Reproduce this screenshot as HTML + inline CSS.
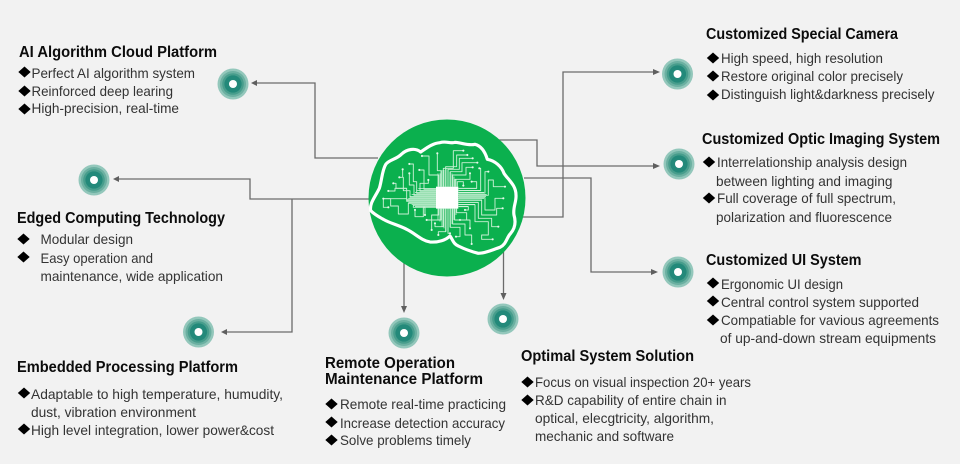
<!DOCTYPE html>
<html lang="en"><head><meta charset="utf-8"><title>AI platform diagram</title>
<style>
html,body{margin:0;padding:0;background:#f2f2f2}
svg{display:block}
text{font-family:"Liberation Sans",sans-serif}
.t{font-size:16px;font-weight:bold;fill:#0c0c0c}
.b{font-size:14px;fill:#333}
.l{fill:none;stroke:#6b6b6b;stroke-width:1.3}
.a{fill:#5f5f5f}
.d{fill:#000}
</style></head><body>
<svg width="960" height="464" viewBox="0 0 960 464" xmlns="http://www.w3.org/2000/svg">
<defs>
<g id="n"><circle r="15.5" fill="#93c7bb"/><circle r="13" fill="#6bb0a1"/><circle r="10.8" fill="#479d8c"/><circle r="8.6" fill="#23897a"/><circle r="4" fill="#fff"/></g>
<polygon id="m" points="-6.2,0 0,-5.5 6.2,0 0,5.5"/>
<marker id="dot" markerUnits="userSpaceOnUse" markerWidth="8" markerHeight="8" refX="4" refY="4"><circle cx="4" cy="4" r="3.2" fill="#e6f8eb"/></marker>
</defs>
<rect width="960" height="464" fill="#f2f2f2"/>
<!-- connectors -->
<path class="l" d="M378 158H315V83H256"/>
<path class="l" d="M372 199H250V179H117"/>
<path class="l" d="M292 199V332H226"/>
<path class="l" d="M497 140H537V166H655"/>
<path class="l" d="M523 217H563V72H655"/>
<path class="l" d="M524 178H591V272H654"/>
<path class="l" d="M404 260V308" stroke-width="1.5"/>
<path class="l" d="M503.5 250V295" stroke-width="1.5"/>
<polygon class="a" points="251,83 257,80 257,86"/>
<polygon class="a" points="113,179 119,176 119,182"/>
<polygon class="a" points="221,332 227,329 227,335"/>
<polygon class="a" points="660,72 653,69 653,75"/>
<polygon class="a" points="660,166 653,163 653,169"/>
<polygon class="a" points="658,272 651,269 651,275"/>
<polygon class="a" points="404,313 401,306 407,306"/>
<polygon class="a" points="503.5,300 500.5,293 506.5,293"/>
<!-- hub -->
<circle cx="447" cy="198" r="78.5" fill="#0bb04e"/>
<g transform="translate(360 120) scale(.3333)">
<path fill="none" stroke="#fff" stroke-width="9.500" stroke-linejoin="round" d="M32 272C28 250 45 232 58 205C66 180 66 150 78 132C90 118 110 118 125 102C140 88 165 82 182 96C195 88 215 70 240 68C258 62 272 72 285 67C305 68 325 78 345 73C365 78 375 95 382 118C405 122 425 140 432 160C445 180 468 195 468 225C470 245 458 262 462 285C468 305 465 325 452 340C440 352 440 372 420 382C400 388 378 400 355 400C335 395 315 388 295 378C280 372 278 358 270 348C258 360 235 368 210 366C185 362 165 340 140 328C115 315 90 310 70 298C55 290 42 282 32 272Z"/>
<g fill="none" stroke="#c9f0d4" stroke-width="2.800" stroke-linejoin="round" marker-end="url(#dot)">
<path d="M236 200V165H207V108H186"/>
<path d="M243 200V152H232V100"/>
<path d="M250 200V145H280V92H310"/>
<path d="M257 200V140H290V105H322"/>
<path d="M264 200V148H298V115H338"/>
<path d="M271 200V155H306V128H352"/>
<path d="M278 200V165H318V142H338"/>
<path d="M285 200V178H330V160"/>
<path d="M292 200V185H310V197"/>
<path d="M296 205H350V185H335"/>
<path d="M296 212H362V145H358"/>
<path d="M296 219H375V155H385"/>
<path d="M296 226H385V180H400V200H435"/>
<path d="M296 233H375V270H405V235H430"/>
<path d="M296 240H365V285H410V265H428"/>
<path d="M296 247H355V295H395V320H415"/>
<path d="M296 254H345V305H385V345H365V358H398"/>
<path d="M296 260H325V270H315"/>
<path d="M290 266V278H320V300H300"/>
<path d="M284 266V300H330V325"/>
<path d="M278 266V312H315V345H335V372"/>
<path d="M271 266V322H300V350H288"/>
<path d="M264 266V340H270"/>
<path d="M257 266V335H235V345"/>
<path d="M250 266V320H225V310"/>
<path d="M243 266V300H200"/>
<path d="M236 266V285H215V330"/>
<path d="M228 262H190V290H165V270"/>
<path d="M228 256H160V262H195V285"/>
<path d="M228 250H145V282H115V258H92V236H70V262H85"/>
<path d="M228 244H140V236H70"/>
<path d="M228 238H140V205H108V190H100"/>
<path d="M228 232H150V212H130V172H118"/>
<path d="M228 226H162V195H148V160"/>
<path d="M228 220H170V185H160V132H148"/>
<path d="M228 214H180V190H205V180"/>
<path d="M228 208H192V150H178"/>
<path d="M140 205H105V213H85"/>
<path d="M128 172V148"/>
</g>
<path fill="none" stroke="#d6f4df" stroke-width="2.200" d="M234 200V160M240 200V160M246 200V150M252 200V150M258 200V145M264 200V150M270 200V155M276 200V160M282 200V170M288 200V178M234 266V300M240 266V305M246 266V320M252 266V325M258 266V335M264 266V335M270 266V322M276 266V312M282 266V300M288 266V285M228 205H175M228 211H170M228 217H165M228 223H155M228 229H150M228 235H145M228 241H140M228 247H145M228 253H155M228 259H165M295 205H350M295 211H360M295 217H372M295 223H380M295 229H378M295 235H372M295 241H365M295 247H355M295 253H345M295 259H325"/>
<rect x="228" y="200" width="67" height="66" fill="#fff"/>
</g>
<!-- nodes -->
<use href="#n" x="233" y="84"/>
<use href="#n" x="94" y="180"/>
<use href="#n" x="198.500" y="332"/>
<use href="#n" x="404" y="333"/>
<use href="#n" x="503" y="319"/>
<use href="#n" x="677.500" y="74"/>
<use href="#n" x="679" y="164"/>
<use href="#n" x="678" y="272"/>
<!-- AI -->
<text class="t" x="19" y="57" textLength="198" lengthAdjust="spacingAndGlyphs">AI Algorithm Cloud Platform</text>
<use class="d" href="#m" x="24.500" y="72"/><text class="b" x="31.500" y="78" textLength="163.500" lengthAdjust="spacingAndGlyphs">Perfect AI algorithm system</text>
<use class="d" href="#m" x="24.500" y="91"/><text class="b" x="31.500" y="96" textLength="141.500" lengthAdjust="spacingAndGlyphs">Reinforced deep learing</text>
<use class="d" href="#m" x="24.500" y="109"/><text class="b" x="31.500" y="113" textLength="147.500" lengthAdjust="spacingAndGlyphs">High-precision, real-time</text>
<!-- Edged -->
<text class="t" x="17" y="223" textLength="208" lengthAdjust="spacingAndGlyphs">Edged Computing Technology</text>
<use class="d" href="#m" x="23.500" y="239"/><text class="b" x="40.500" y="244" textLength="92.500" lengthAdjust="spacingAndGlyphs">Modular design</text>
<use class="d" href="#m" x="23.500" y="257"/><text class="b" x="40.500" y="263" textLength="112.500" lengthAdjust="spacingAndGlyphs">Easy operation and</text>
<text class="b" x="40.500" y="281" textLength="182.500" lengthAdjust="spacingAndGlyphs">maintenance, wide application</text>
<!-- Embedded -->
<text class="t" x="17" y="372" textLength="221" lengthAdjust="spacingAndGlyphs">Embedded Processing Platform</text>
<use class="d" href="#m" x="24" y="393"/><text class="b" x="31" y="399" textLength="252" lengthAdjust="spacingAndGlyphs">Adaptable to high temperature, humudity,</text>
<text class="b" x="31" y="417" textLength="165" lengthAdjust="spacingAndGlyphs">dust, vibration environment</text>
<use class="d" href="#m" x="24" y="429"/><text class="b" x="31" y="435" textLength="243" lengthAdjust="spacingAndGlyphs">High level integration, lower power&amp;cost</text>
<!-- Remote -->
<text class="t" x="325" y="368" textLength="130" lengthAdjust="spacingAndGlyphs">Remote Operation</text>
<text class="t" x="325" y="384" textLength="158" lengthAdjust="spacingAndGlyphs">Maintenance Platform</text>
<use class="d" href="#m" x="331.500" y="404"/><text class="b" x="340" y="409" textLength="166" lengthAdjust="spacingAndGlyphs">Remote real-time practicing</text>
<use class="d" href="#m" x="331.500" y="422"/><text class="b" x="340" y="428" textLength="165" lengthAdjust="spacingAndGlyphs">Increase detection accuracy</text>
<use class="d" href="#m" x="331.500" y="440"/><text class="b" x="340" y="445" textLength="131" lengthAdjust="spacingAndGlyphs">Solve problems timely</text>
<!-- Optimal -->
<text class="t" x="521" y="361" textLength="173" lengthAdjust="spacingAndGlyphs">Optimal System Solution</text>
<use class="d" href="#m" x="527.500" y="382"/><text class="b" x="535" y="387" textLength="216" lengthAdjust="spacingAndGlyphs">Focus on visual inspection 20+ years</text>
<use class="d" href="#m" x="527.500" y="400"/><text class="b" x="535" y="405" textLength="191.500" lengthAdjust="spacingAndGlyphs">R&amp;D capability of entire chain in</text>
<text class="b" x="535" y="423" textLength="179" lengthAdjust="spacingAndGlyphs">optical, elecgtricity, algorithm,</text>
<text class="b" x="535" y="441" textLength="139" lengthAdjust="spacingAndGlyphs">mechanic and software</text>
<!-- Camera -->
<text class="t" x="706" y="39" textLength="192" lengthAdjust="spacingAndGlyphs">Customized Special Camera</text>
<use class="d" href="#m" x="713" y="58"/><text class="b" x="721" y="63" textLength="162" lengthAdjust="spacingAndGlyphs">High speed, high resolution</text>
<use class="d" href="#m" x="713" y="76"/><text class="b" x="721" y="81" textLength="182" lengthAdjust="spacingAndGlyphs">Restore original color precisely</text>
<use class="d" href="#m" x="713" y="95"/><text class="b" x="721" y="99" textLength="213.500" lengthAdjust="spacingAndGlyphs">Distinguish light&amp;darkness precisely</text>
<!-- Optic -->
<text class="t" x="702" y="144" textLength="238" lengthAdjust="spacingAndGlyphs">Customized Optic Imaging System</text>
<use class="d" href="#m" x="709" y="162"/><text class="b" x="717" y="167" textLength="190" lengthAdjust="spacingAndGlyphs">Interrelationship analysis design</text>
<text class="b" x="716" y="186" textLength="176.500" lengthAdjust="spacingAndGlyphs">between lighting and imaging</text>
<use class="d" href="#m" x="709" y="198"/><text class="b" x="717" y="203" textLength="179" lengthAdjust="spacingAndGlyphs">Full coverage of full spectrum,</text>
<text class="b" x="716" y="222" textLength="176" lengthAdjust="spacingAndGlyphs">polarization and fluorescence</text>
<!-- UI -->
<text class="t" x="706" y="265" textLength="155.500" lengthAdjust="spacingAndGlyphs">Customized UI System</text>
<use class="d" href="#m" x="713" y="283"/><text class="b" x="721" y="289" textLength="122" lengthAdjust="spacingAndGlyphs">Ergonomic UI design</text>
<use class="d" href="#m" x="713" y="301"/><text class="b" x="721" y="307" textLength="198" lengthAdjust="spacingAndGlyphs">Central control system supported</text>
<use class="d" href="#m" x="713" y="320"/><text class="b" x="721" y="325" textLength="218" lengthAdjust="spacingAndGlyphs">Compatiable for vavious agreements</text>
<text class="b" x="720" y="343" textLength="216" lengthAdjust="spacingAndGlyphs">of up-and-down stream equipments</text>
</svg>
</body></html>
